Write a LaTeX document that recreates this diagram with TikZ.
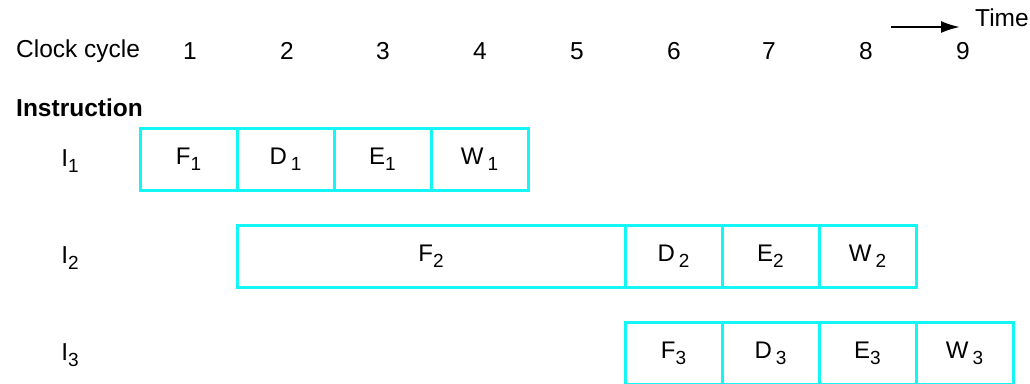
\documentclass[tikz,border=0pt]{standalone}
\usepackage{fontspec}
\setmainfont{Liberation Sans}
\usepackage{tikz}
\usetikzlibrary{arrows.meta}

\definecolor{stagecyan}{RGB}{20,245,245}
\newcommand{\lowidx}[1]{\raisebox{-6pt}{\fontsize{19}{20}\selectfont #1}}

\begin{document}
\begin{tikzpicture}[x=1pt,y=-1pt]

	\tikzset{label/.style = {font=\fontsize{24.5}{28}\selectfont,inner sep=0pt}}
	\tikzset{stage/.style = {shape=rectangle,draw=stagecyan,line width=3pt,minimum height=62pt,minimum width=97pt,inner sep=0pt,font=\fontsize{24}{28}\selectfont}}

	\useasboundingbox (0,0) rectangle (1030,383);

	% header
	\node[label,anchor=west] (clk) at (16,51) {Clock cycle};
	\foreach \n/\x in {1/190,2/287,3/383,4/480,5/577,6/674,7/769,8/866,9/963}
		\node[label] (c\n) at (\x,51) {\n};
	\coordinate (ta) at (891,27);
	\coordinate (tb) at (960,27);
	\draw[line width=2.2pt,-{Latex[length=19pt,width=12pt]}] (ta) -- (tb);
	\node[label,anchor=west] (time) at (975,18) {Time};
	\node[label,anchor=west,font=\fontsize{24.5}{28}\selectfont\bfseries] (instr) at (16,108) {Instruction};

	% instruction labels
	\node[label] (i1) at (70,161) {I\lowidx{1}};
	\node[label] (i2) at (70,258) {I\lowidx{2}};
	\node[label] (i3) at (70,355) {I\lowidx{3}};

	% I1
	\node[stage] (f1) at (188.5,159) {F\lowidx{1}};
	\node[stage] (d1) at (285.5,159) {D\,\lowidx{1}};
	\node[stage] (e1) at (382.5,159) {E\lowidx{1}};
	\node[stage] (w1) at (479.5,159) {W\,\lowidx{1}};

	% I2
	\node[stage,minimum width=388pt] (f2) at (431,256) {F\lowidx{2}};
	\node[stage] (d2) at (673.5,256) {D\,\lowidx{2}};
	\node[stage] (e2) at (770.5,256) {E\lowidx{2}};
	\node[stage] (w2) at (867.5,256) {W\,\lowidx{2}};

	% I3
	\node[stage] (f3) at (673.5,353) {F\lowidx{3}};
	\node[stage] (d3) at (770.5,353) {D\,\lowidx{3}};
	\node[stage] (e3) at (867.5,353) {E\lowidx{3}};
	\node[stage] (w3) at (964.5,353) {W\,\lowidx{3}};

\end{tikzpicture}
\end{document}
